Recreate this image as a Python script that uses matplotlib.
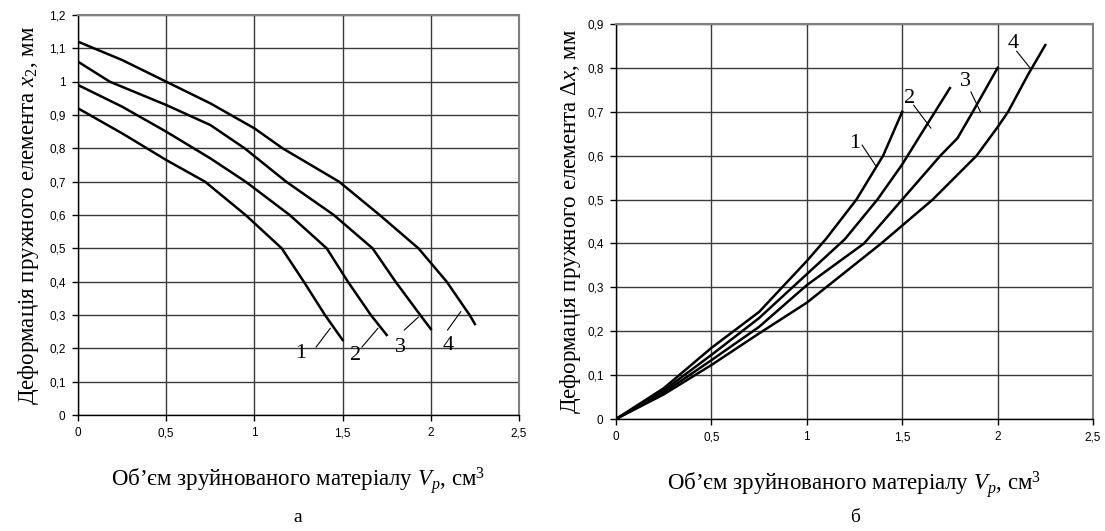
import matplotlib
matplotlib.use("Agg")
import matplotlib.pyplot as plt

plt.rcParams['mathtext.fontset'] = 'custom'
plt.rcParams['mathtext.rm'] = 'Liberation Serif'
plt.rcParams['mathtext.it'] = 'Liberation Serif:italic'

# ---- data: panel "а" (x2 vs Vp) ----
a1_x = [0, 0.25, 0.5, 0.72, 0.95, 1.155, 1.28, 1.4, 1.5]
a1_y = [0.92, 0.845, 0.765, 0.7, 0.6, 0.5, 0.4, 0.3, 0.225]
a2_x = [0, 0.25, 0.5, 0.75, 0.95, 1.2, 1.41, 1.53, 1.66, 1.75]
a2_y = [0.99, 0.925, 0.85, 0.77, 0.7, 0.6, 0.5, 0.4, 0.3, 0.24]
a3_x = [0, 0.18, 0.5, 0.75, 0.945, 1.18, 1.45, 1.67, 1.8, 1.94, 2.0]
a3_y = [1.06, 1.0, 0.93, 0.87, 0.8, 0.7, 0.6, 0.5, 0.4, 0.3, 0.258]
a4_x = [0, 0.25, 0.5, 0.75, 1.0, 1.16, 1.48, 1.71, 1.93, 2.09, 2.22, 2.25]
a4_y = [1.12, 1.065, 1.0, 0.935, 0.86, 0.8, 0.7, 0.6, 0.5, 0.4, 0.3, 0.273]

# ---- data: panel "б" (dx vs Vp) ----
b1_x = [0, 0.25, 0.5, 0.75, 1.0, 1.1, 1.26, 1.4, 1.5]
b1_y = [0, 0.07, 0.162, 0.244, 0.36, 0.41, 0.5, 0.6, 0.70]
b2_x = [0, 0.25, 0.5, 0.75, 1.0, 1.2, 1.37, 1.5, 1.6, 1.75]
b2_y = [0, 0.065, 0.146, 0.23, 0.33, 0.41, 0.5, 0.58, 0.65, 0.754]
b3_x = [0, 0.25, 0.5, 0.75, 1.0, 1.3, 1.5, 1.70, 1.79, 1.87, 2.0]
b3_y = [0, 0.06, 0.134, 0.21, 0.305, 0.4, 0.5, 0.6, 0.64, 0.7, 0.80]
b4_x = [0, 0.25, 0.5, 0.75, 1.0, 1.39, 1.66, 1.89, 2.0, 2.055, 2.16, 2.25]
b4_y = [0, 0.056, 0.123, 0.195, 0.265, 0.4, 0.5, 0.6, 0.665, 0.7, 0.785, 0.852]

curve_labels = ['1', '2', '3', '4']
xticks = [0, 0.5, 1, 1.5, 2, 2.5]
a_yticks = [round(0.1 * i, 1) for i in range(13)]
b_yticks = [round(0.1 * i, 1) for i in range(10)]

# label positions (text, leader start, leader end) in data coords
a_lab = [((1.26, 0.186), (1.35, 0.204), (1.43, 0.26)),
         ((1.575, 0.177), (1.61, 0.204), (1.70, 0.26)),
         ((1.83, 0.204), (1.85, 0.255), (1.93, 0.294)),
         ((2.10, 0.207), (2.095, 0.255), (2.17, 0.31))]
b_lab = [((1.25, 0.628), (1.29, 0.624), (1.36, 0.578)),
         ((1.54, 0.73), (1.56, 0.715), (1.65, 0.663)),
         ((1.83, 0.768), (1.86, 0.745), (1.91, 0.70)),
         ((2.08, 0.856), (2.10, 0.838), (2.17, 0.80))]


def fmt(v):
    return ('%g' % v).replace('.', ',')


fig = plt.figure(figsize=(11.05, 5.31), dpi=100)
axA = fig.add_axes([78 / 1105, 1 - 415 / 531, 441 / 1105, 400 / 531])
axB = fig.add_axes([616 / 1105, 1 - 419 / 531, 477 / 1105, 395 / 531])


def style(ax, yticks, ymax):
    ax.set_xlim(0, 2.5)
    ax.set_ylim(0, ymax)
    ax.set_xticks(xticks)
    ax.set_xticklabels([fmt(v) for v in xticks], fontsize=8.5, family='Liberation Sans')
    ax.set_yticks(yticks)
    ax.set_yticklabels([fmt(v) for v in yticks], fontsize=8.5, family='Liberation Sans')
    ax.grid(True, color='#3a3a3a', linewidth=1.0)
    ax.set_axisbelow(True)
    ax.tick_params(direction='out', length=4, width=1, color='black', pad=5)
    for s in ['left', 'bottom']:
        ax.spines[s].set_color('black')
        ax.spines[s].set_linewidth(1.0)
    for s in ['top', 'right']:
        ax.spines[s].set_color('#808080')
        ax.spines[s].set_linewidth(1.5)


style(axA, a_yticks, 1.2)
style(axB, b_yticks, 0.9)

for xs, ys in [(a1_x, a1_y), (a2_x, a2_y), (a3_x, a3_y), (a4_x, a4_y)]:
    axA.plot(xs, ys, color='black', lw=1.8, solid_joinstyle='round')
for xs, ys in [(b1_x, b1_y), (b2_x, b2_y), (b3_x, b3_y), (b4_x, b4_y)]:
    axB.plot(xs, ys, color='black', lw=1.8, solid_joinstyle='round')

for ax, labs in [(axA, a_lab), (axB, b_lab)]:
    for name, (tp, p0, p1) in zip(curve_labels, labs):
        ax.text(tp[0], tp[1], name, fontsize=16, family='Liberation Serif',
                ha='center', va='center')
        ax.plot([p0[0], p1[0]], [p0[1], p1[1]], color='black', lw=0.8)

lab_font = dict(fontsize=16.5, family='Liberation Serif')
axA.set_ylabel('Деформація пружного елемента $x_2$, мм', labelpad=6, **lab_font)
axB.set_ylabel('Деформація пружного елемента $\\Delta x$, мм', labelpad=3, **lab_font)
axA.set_xlabel('Об’єм зруйнованого матеріалу $V_p$, см$^3$', labelpad=18, **lab_font)
axB.set_xlabel('Об’єм зруйнованого матеріалу $V_p$, см$^3$', labelpad=18, **lab_font)

fig.text(298 / 1105, 1 - 518 / 531, 'а', ha='center', va='center', fontsize=14, family='Liberation Serif')
fig.text(855 / 1105, 1 - 518 / 531, 'б', ha='center', va='center', fontsize=14, family='Liberation Serif')

fig.savefig('out.png', dpi=100)
